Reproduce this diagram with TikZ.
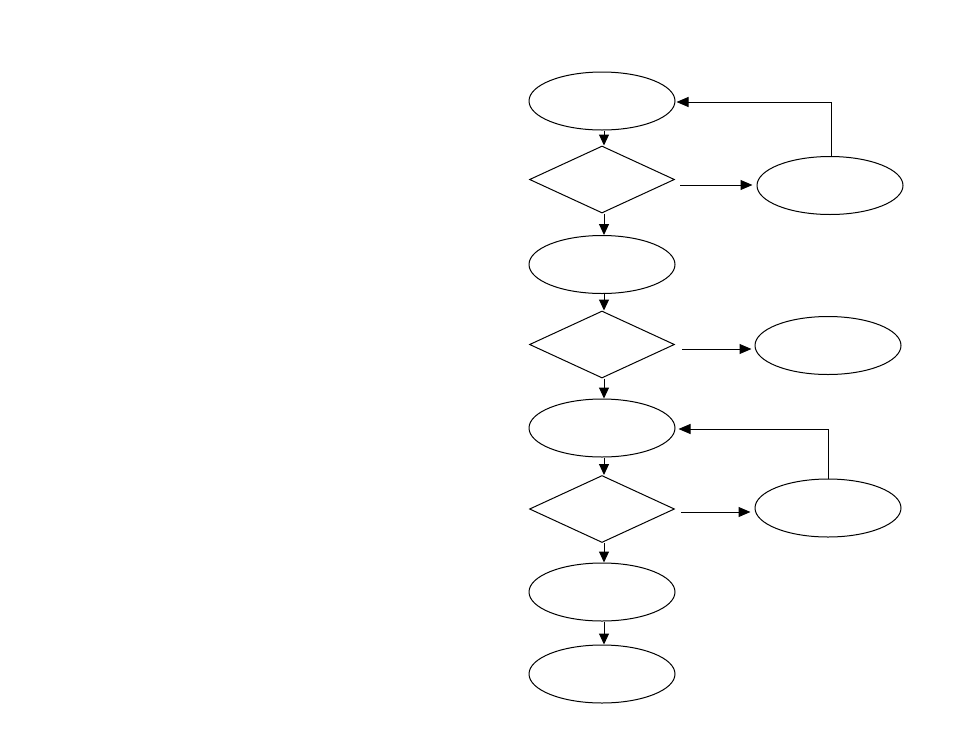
\documentclass[tikz,border=0pt]{standalone}
\usetikzlibrary{shapes.geometric,arrows.meta}
\begin{document}
\begin{tikzpicture}[x=1pt,y=-1pt,line width=1pt,
  ell/.style={draw,ellipse,minimum width=146pt,minimum height=58pt,inner sep=0pt},
  dia/.style={draw,diamond,aspect=2.16,minimum width=145pt,minimum height=67pt,inner sep=0pt},
  arr/.style={-{Triangle[length=12pt,width=10pt]}},
  varr/.style={-{Triangle[length=11pt,width=10pt]}}]
\useasboundingbox (0,0) rectangle (954,737);
% left column
\node[ell] (e1) at (602,101) {};
\node[dia] (d1) at (602,179.5) {};
\node[ell] (e2) at (602,264.5) {};
\node[dia] (d2) at (602,344.5) {};
\node[ell] (e3) at (602,428) {};
\node[dia] (d3) at (602,509) {};
\node[ell] (e4) at (602,592) {};
\node[ell] (e5) at (602,674) {};
% right column
\node[ell] (r1) at (830,185.5) {};
\node[ell] (r2) at (828,345.5) {};
\node[ell] (r3) at (828,508) {};
% vertical arrows
\draw[varr] ([xshift=2pt]e1.south) -- ([xshift=2pt]d1.north);
\draw[varr] ([xshift=2pt]d1.south) -- ([xshift=2pt]e2.north);
\draw[varr] ([xshift=2pt]e2.south) -- ([xshift=2pt]d2.north);
\draw[varr] ([xshift=2pt]d2.south) -- ([xshift=2pt]e3.north);
\draw[varr] ([xshift=2pt]e3.south) -- ([xshift=2pt]d3.north);
\draw[varr] ([xshift=2pt]d3.south) -- ([xshift=2pt]e4.north);
\draw[varr] ([xshift=2pt]e4.south) -- ([xshift=2pt]e5.north);
% horizontal arrows
\draw[arr,shorten >=4pt] ([xshift=5pt,yshift=-5.5pt]d1.east) coordinate (h1) -- (h1 -| r1.west);
\draw[arr,shorten >=3pt] ([xshift=7pt,yshift=-4.5pt]d2.east) coordinate (h2) -- (h2 -| r2.west);
\draw[arr,shorten >=4pt] ([xshift=6pt,yshift=-3pt]d3.east) coordinate (h3) -- (h3 -| r3.west);
% feedback
\draw[arr,shorten >=1pt] ([xshift=1pt]r1.north) |- ([yshift=-1pt]e1.east);
\draw[arr,shorten >=3pt] (r3.north) |- ([yshift=-1pt]e3.east);
\end{tikzpicture}
\end{document}
